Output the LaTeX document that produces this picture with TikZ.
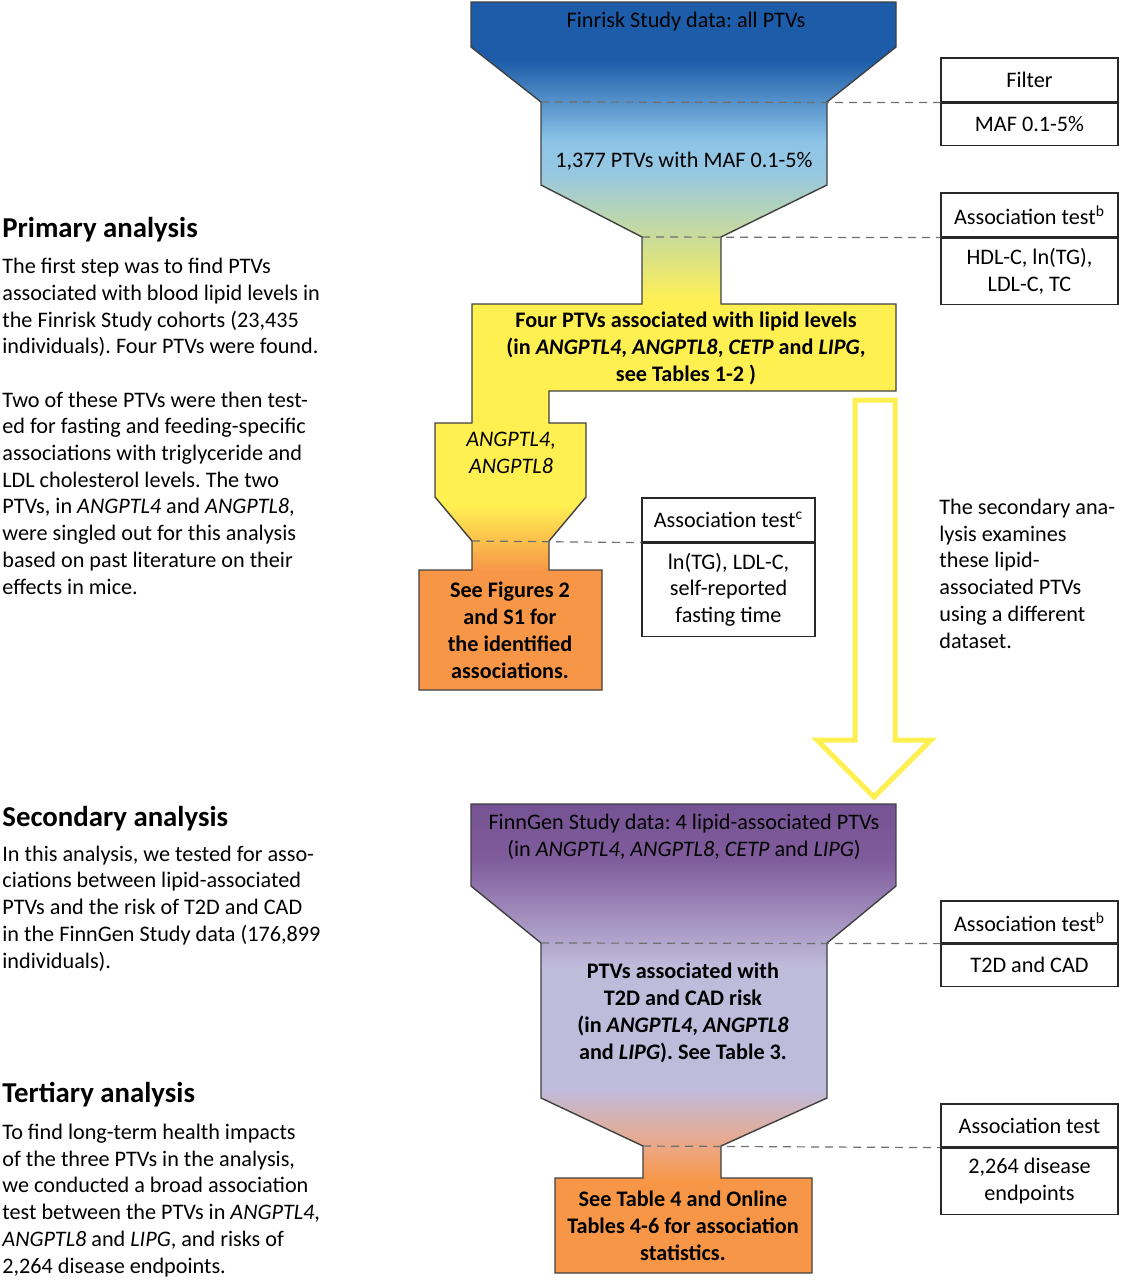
\documentclass[tikz,border=0pt]{standalone}
\usepackage{fontspec}
\setmainfont{Carlito}
\usepackage{xcolor}
\usepackage{tikz}
\usetikzlibrary{positioning}
\frenchspacing

\definecolor{finblue}{RGB}{28,92,168}
\definecolor{finlight}{RGB}{140,196,232}
\definecolor{finpale}{RGB}{152,200,224}
\definecolor{lipyellow}{RGB}{255,240,82}
\definecolor{resorange}{RGB}{247,150,70}
\definecolor{genpurple}{RGB}{117,82,147}
\definecolor{genmid}{RGB}{128,92,156}
\definecolor{genlav}{RGB}{191,187,219}
\definecolor{genpeach}{RGB}{238,166,126}
\definecolor{funnelline}{RGB}{64,64,64}
\definecolor{boxline}{RGB}{40,40,40}
\definecolor{guidegray}{RGB}{110,110,110}

% outlines of the two funnels (pixel grid, y downwards)
\newcommand\finriskoutline{(471,2) -- (896,2) -- (896,47) -- (827,102) -- (827,185)
  -- (721,237) -- (721,304) -- (896,304) -- (896,391) -- (549,391) -- (549,423)
  -- (586,423) -- (586,497) -- (549,541) -- (549,570) -- (602,570) -- (602,690)
  -- (419,690) -- (419,570) -- (472,570) -- (472,541) -- (435,497) -- (435,423)
  -- (472,423) -- (472,304) -- (642,304) -- (642,237) -- (541,185) -- (541,102)
  -- (471,47) -- cycle}
\newcommand\finngenoutline{(471,804) -- (896,804) -- (896,886) -- (827,943)
  -- (827,1098) -- (721,1146) -- (721,1178) -- (812,1178) -- (812,1273)
  -- (555,1273) -- (555,1178) -- (643,1178) -- (643,1146) -- (541,1098)
  -- (541,943) -- (471,886) -- cycle}

\tikzset{
  funnel/.style={draw=funnelline, line width=0.7pt, line join=miter},
  txt/.style={inner sep=0pt, font=\fontsize{11.1}{13.35}\selectfont},
  lefttxt/.style={txt, align=left, anchor=base west},
  headtxt/.style={lefttxt, font=\fontsize{14.4}{17}\selectfont\bfseries},
  midtxt/.style={txt, align=center, anchor=base},
  boldtxt/.style={midtxt, font=\fontsize{11.1}{13.35}\selectfont\bfseries},
  testbox/.style={txt, draw=boxline, line width=0.6pt, align=center,
    minimum width=88.5pt},
  guide/.style={draw=guidegray, dash pattern=on 4pt off 3pt, line width=0.6pt},
  bigarrow/.style={draw=lipyellow, line width=2.5pt, line join=miter},
}

\begin{document}
\begin{tikzpicture}[x=0.5pt,y=-0.5pt]
  \useasboundingbox (0,0) rectangle (1122,1280);

  % Finrisk funnel, filled in colour bands
  \begin{scope}
    \clip \finriskoutline;
    \fill[finblue] (400,0) rectangle (900,61);
    \shade[top color=finblue, bottom color=finlight] (400,60) rectangle (900,141);
    \shade[top color=finlight, bottom color=finpale] (400,140) rectangle (900,176);
    \shade[top color=finpale, bottom color=lipyellow] (400,175) rectangle (900,301);
    \fill[lipyellow] (400,300) rectangle (900,506);
    \shade[top color=lipyellow, bottom color=resorange] (400,505) rectangle (900,571);
    \fill[resorange] (400,570) rectangle (900,700);
  \end{scope}
  \draw[funnel] \finriskoutline;

  % FinnGen funnel
  \begin{scope}
    \clip \finngenoutline;
    \shade[top color=genpurple, bottom color=genmid] (400,800) rectangle (900,861);
    \shade[top color=genmid, bottom color=genlav] (400,860) rectangle (900,966);
    \fill[genlav] (400,965) rectangle (900,1091);
    \shade[top color=genlav, bottom color=genpeach] (400,1090) rectangle (900,1151);
    \shade[top color=genpeach, bottom color=resorange] (400,1150) rectangle (900,1181);
    \fill[resorange] (400,1180) rectangle (900,1280);
  \end{scope}
  \draw[funnel] \finngenoutline;

  % big hollow arrow between the two analyses
  \draw[bigarrow] (855,400) -- (895,400) -- (895,740) -- (931,740) -- (874,797)
    -- (817,740) -- (855,740) -- cycle;

  % texts inside the funnels (multi-line nodes sit on their last baseline)
  \node[midtxt] (allptv) at (686,27) {Finrisk Study data: all PTVs};
  \node[midtxt] (mafptv) at (684,167) {1,377 PTVs with MAF 0.1-5\%};
  \node[boldtxt] (lipidptv) at (686,381) {Four PTVs associated with lipid levels\\
    (in \textit{ANGPTL4}, \textit{ANGPTL8}, \textit{CETP} and \textit{LIPG},\\
    see Tables 1-2 )};
  \node[midtxt] (twogenes) at (511,473) {\textit{ANGPTL4},\\ \textit{ANGPTL8}};
  \node[boldtxt] (figres) at (510,678) {See Figures 2\\ and S1 for\\
    the identified\\ associations.};
  \node[midtxt] (genptv) at (684,856) {FinnGen Study data: 4 lipid-associated PTVs\\
    (in \textit{ANGPTL4}, \textit{ANGPTL8}, \textit{CETP} and \textit{LIPG})};
  \node[boldtxt] (riskptv) at (683,1059) {PTVs associated with\\ T2D and CAD risk\\
    (in \textit{ANGPTL4}, \textit{ANGPTL8}\\ and \textit{LIPG}). See Table 3.};
  \node[boldtxt] (tabres) at (683,1260) {See Table 4 and Online\\
    Tables 4-6 for association\\ statistics.};

  % filter and test boxes
  \node[testbox, minimum height=22pt] (filter) at (1029.5,80) {Filter};
  \node[testbox, minimum height=21pt, below=0pt of filter] (filtermaf) {MAF 0.1-5\%};
  \node[testbox, minimum height=22pt] (lipidtest) at (1029.5,215) {Association test\textsuperscript{b}};
  \node[testbox, minimum height=33pt, below=0pt of lipidtest] (lipidvars) {HDL-C, ln(TG),\\ LDL-C, TC};
  \node[testbox, minimum width=86.5pt, minimum height=22pt] (fasttest) at (728.5,520) {Association test\textsuperscript{c}};
  \node[testbox, minimum width=86.5pt, minimum height=46.5pt, below=0pt of fasttest] (fastvars) {ln(TG), LDL-C,\\ self-reported\\ fasting time};
  \node[testbox, minimum height=21pt] (risktest) at (1029.5,922) {Association test\textsuperscript{b}};
  \node[testbox, minimum height=21pt, below=0pt of risktest] (riskvars) {T2D and CAD};
  \node[testbox, minimum height=21.5pt] (widetest) at (1029.5,1125.5) {Association test};
  \node[testbox, minimum height=33pt, below=0pt of widetest] (widevars) {2,264 disease\\ endpoints};

  % dashed guides from the funnel cuts to the boxes
  \coordinate (cutmaf) at (541,102);
  \coordinate (cutlipid) at (642,237);
  \coordinate (cutfast) at (472,541);
  \coordinate (cutrisk) at (541,943);
  \coordinate (cutwide) at (643,1146);
  \draw[guide] (cutmaf) -- (filter.south west);
  \draw[guide] (cutlipid) -- (lipidtest.south west);
  \draw[guide] (cutfast) -- (fasttest.south west);
  \draw[guide] (cutrisk) -- (risktest.south west);
  \draw[guide] (cutwide) -- (widetest.south west);

  % side texts
  \node[headtxt] (primhead) at (2,237) {Primary analysis};
  \node[lefttxt] (primtext) at (2,594) {The first step was to find PTVs\\
    associated with blood lipid levels in\\ the Finrisk Study cohorts (23,435\\
    individuals). Four PTVs were found.\\[13.35pt]
    Two of these PTVs were then test-\\ ed for fasting and feeding-specific\\
    associations with triglyceride and\\ LDL cholesterol levels. The two\\
    PTVs, in \textit{ANGPTL4} and \textit{ANGPTL8},\\
    were singled out for this analysis\\ based on past literature on their\\
    effects in mice.};
  \node[lefttxt] (sidetext) at (939,648) {The secondary ana-\\ lysis examines\\
    these lipid-\\ associated PTVs\\ using a different\\ dataset.};
  \node[headtxt] (sechead) at (2,826) {Secondary analysis};
  \node[lefttxt] (sectext) at (2,968) {In this analysis, we tested for asso-\\
    ciations between lipid-associated\\ PTVs and the risk of T2D and CAD\\
    in the FinnGen Study data (176,899\\ individuals).};
  \node[headtxt] (terhead) at (2,1102) {Tertiary analysis};
  \node[lefttxt] (tertext) at (2,1273) {To find long-term health impacts\\
    of the three PTVs in the analysis,\\ we conducted a broad association\\
    test between the PTVs in \textit{ANGPTL4},\\
    \textit{ANGPTL8} and \textit{LIPG}, and risks of\\ 2,264 disease endpoints.};
\end{tikzpicture}
\end{document}
